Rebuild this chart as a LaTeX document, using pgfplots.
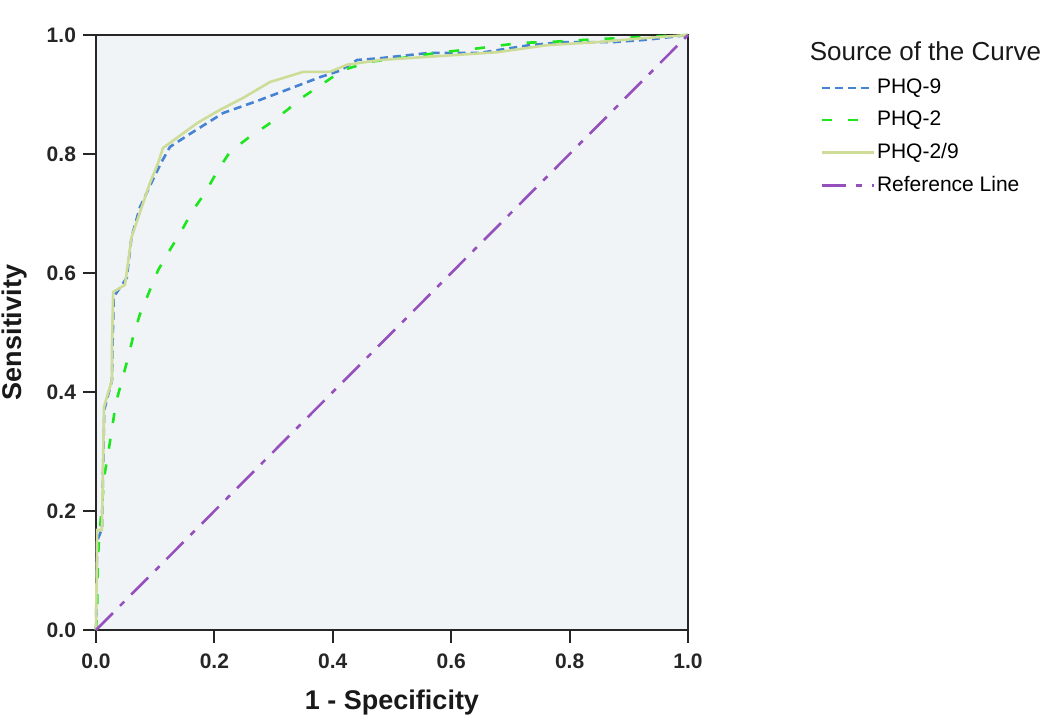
\documentclass[border=0pt]{standalone}
\usepackage{fontspec}
\setmainfont{Liberation Sans}
\usepackage{pgfplots}
\pgfplotsset{compat=1.18}
\definecolor{phqnine}{RGB}{70,130,210}
\definecolor{phqtwo}{RGB}{30,230,30}
\definecolor{phqboth}{RGB}{205,220,150}
\definecolor{refline}{RGB}{150,80,190}
\definecolor{plotbg}{RGB}{241,244,247}
\begin{document}
\begin{tikzpicture}
\useasboundingbox (-48pt,-47pt) rectangle (477pt,315pt);
\begin{axis}[
  name=ax,
  scale only axis,
  width=296pt, height=297.5pt,
  xmin=0, xmax=1, ymin=0, ymax=1,
  xtick={0,0.2,...,1.0}, ytick={0,0.2,...,1.0},
  xtick pos=bottom, ytick pos=left,
  tick align=outside,
  major tick length=6.5pt,
  tick style={black!85, line width=1.1pt},
  axis line style={black!85, line width=1.3pt},
  axis background/.style={fill=plotbg},
  xticklabel style={/pgf/number format/.cd, fixed, fixed zerofill, precision=1},
  yticklabel style={/pgf/number format/.cd, fixed, fixed zerofill, precision=1},
  xticklabel shift=2pt,
  /pgf/number format/assume math mode=true,
  tick label style={font=\fontsize{10.5}{12}\selectfont\bfseries, text=black!85},
  xlabel={\textbf{1 - Specificity}},
  ylabel={\textbf{Sensitivity}},
  label style={font=\fontsize{13.5}{15}\selectfont, text=black!90},
  xlabel style={at={(axis description cs:0.5,-0.1227)}, anchor=center},
  ylabel style={at={(axis description cs:-0.137,0.5)}, anchor=center},
  legend style={at={(rel axis cs:1.223,0.93)}, anchor=north west,
    draw=none, fill=none, font=\fontsize{10.5}{12}\selectfont,
    row sep=5.3pt, inner sep=0pt, nodes={inner sep=1pt}},
  legend cell align=left,
  legend image code/.code={\draw[#1] (0pt,0pt) -- (26pt,0pt);},
  clip=false,
]
% PHQ-9
\addplot[phqnine, line width=1.3pt, dash pattern=on 4pt off 2.5pt] coordinates {
(0,0)(0.002,0.15)(0.01,0.17)(0.014,0.37)(0.027,0.42)(0.028,0.48)(0.03,0.56)
(0.052,0.592)(0.06,0.66)(0.074,0.71)(0.1,0.765)(0.111,0.787)(0.125,0.812)
(0.159,0.834)(0.215,0.869)(0.272,0.889)(0.328,0.91)(0.378,0.929)(0.412,0.94)
(0.441,0.958)(0.48,0.961)(0.564,0.97)(0.649,0.97)(0.733,0.983)(0.789,0.988)
(0.873,0.988)(0.93,0.992)(1,1)};
\addlegendentry{PHQ-9}
% PHQ-2
\addplot[phqtwo, line width=1.3pt, dash pattern=on 5pt off 8pt] coordinates {
(0,0)(0.002,0.034)(0.003,0.113)(0.005,0.151)(0.012,0.232)(0.015,0.264)
(0.022,0.306)(0.028,0.345)(0.034,0.383)(0.044,0.42)(0.054,0.457)(0.0625,0.492)
(0.074,0.53)(0.105,0.605)(0.128,0.644)(0.145,0.672)(0.164,0.706)(0.184,0.734)
(0.206,0.773)(0.226,0.803)(0.257,0.827)(0.29,0.849)(0.323,0.874)(0.35,0.896)
(0.383,0.918)(0.417,0.941)(0.463,0.955)(0.53,0.963)(0.576,0.97)(0.649,0.978)
(0.687,0.983)(0.721,0.987)(0.762,0.988)(0.846,0.993)(0.93,0.997)(1,1)};
\addlegendentry{PHQ-2}
% PHQ-2/9
\addplot[phqboth, line width=1.3pt] coordinates {
(0,0)(0.002,0.168)(0.01,0.168)(0.0135,0.375)(0.027,0.42)(0.027,0.476)
(0.029,0.568)(0.049,0.58)(0.06,0.66)(0.091,0.751)(0.105,0.785)(0.113,0.81)
(0.171,0.852)(0.209,0.874)(0.248,0.894)(0.294,0.921)(0.35,0.938)(0.395,0.938)
(0.424,0.95)(0.48,0.958)(0.677,0.971)(0.762,0.983)(0.846,0.988)(0.93,0.995)
(1,1)};
\addlegendentry{PHQ-2/9}
% Reference line
\addplot[refline, line width=1.3pt, dash pattern=on 12pt off 5pt on 3pt off 5pt] coordinates {
(0,0)(1,1)};
\addlegendentry{Reference Line}
\node[anchor=north west, inner sep=0pt, font=\fontsize{13}{14}\selectfont, text=black!90]
  at (rel axis cs:1.205,0.99) {Source of the Curve};
\end{axis}
\end{tikzpicture}
\end{document}
